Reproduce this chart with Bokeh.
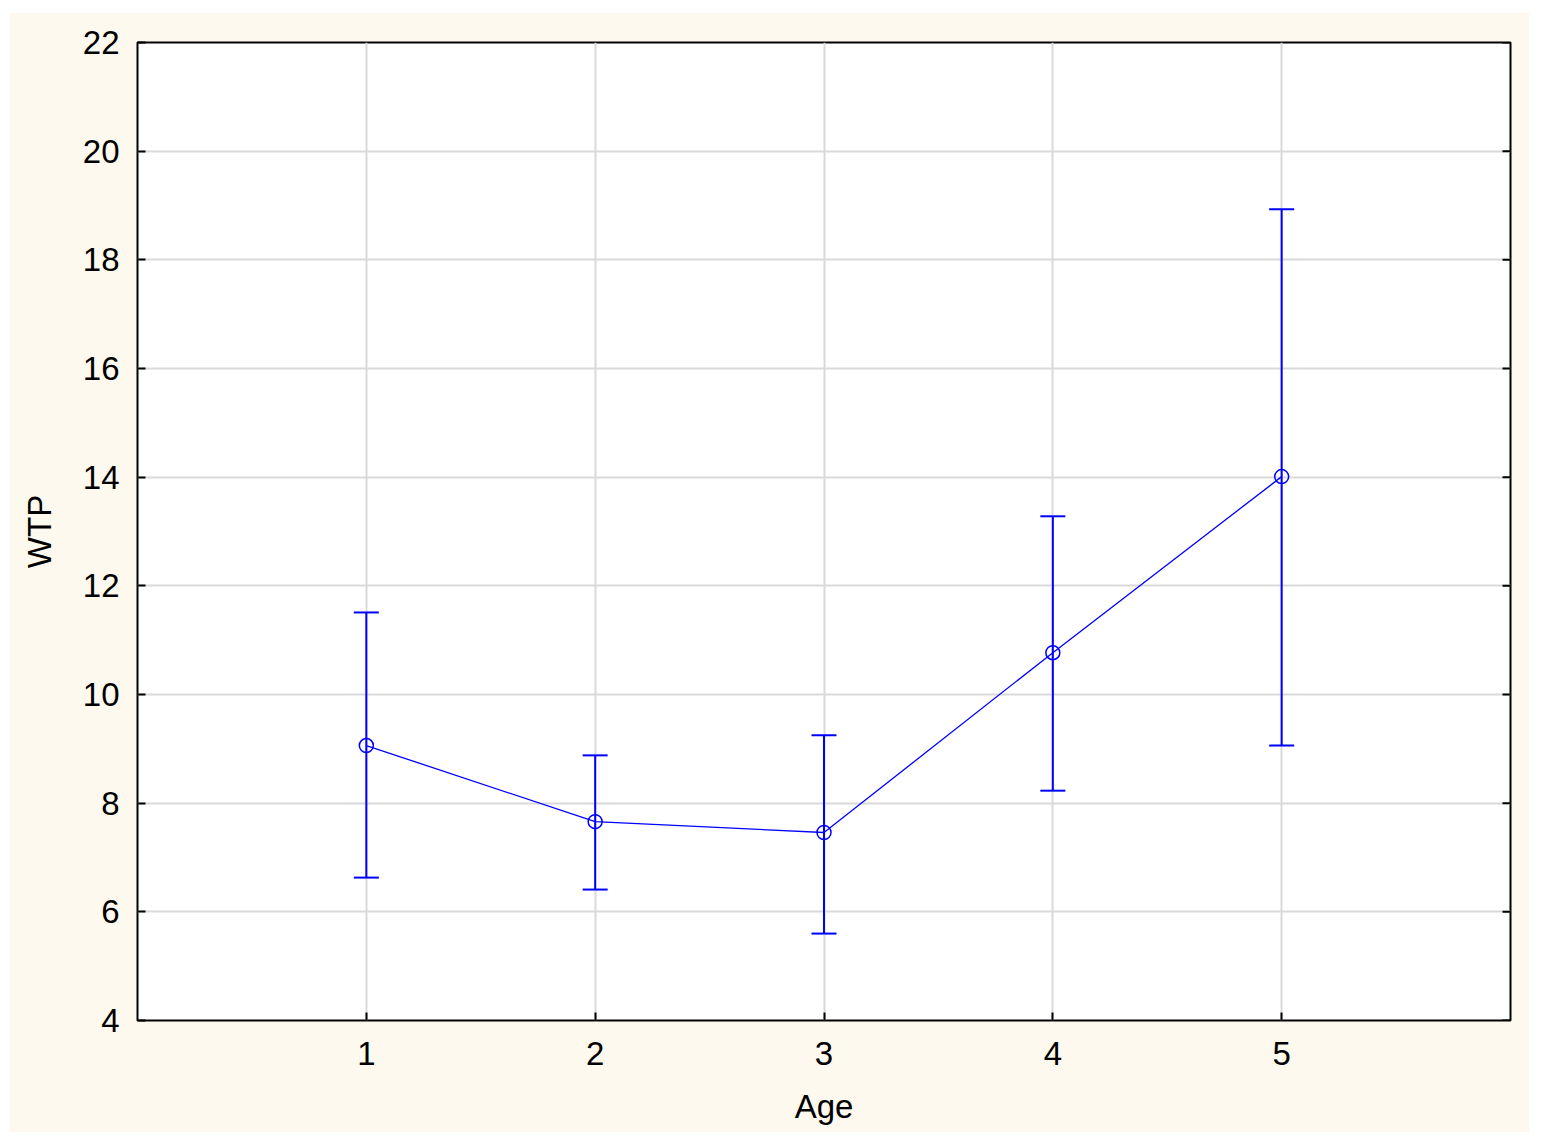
from bokeh.plotting import figure
from bokeh.models import ColumnDataSource, Whisker, TeeHead, FixedTicker, Range1d
from bokeh.embed import file_html
from bokeh.resources import INLINE

age = [1, 2, 3, 4, 5]
wtp_mean = [9.06, 7.66, 7.46, 10.77, 14.01]
wtp_upper = [11.51, 8.88, 9.25, 13.28, 18.93]
wtp_lower = [6.63, 6.41, 5.60, 8.23, 9.06]
x_ticks = [1, 2, 3, 4, 5]
y_ticks = [4, 6, 8, 10, 12, 14, 16, 18, 20, 22]
X_MIN, X_MAX = 0, 6
Y_MIN, Y_MAX = 4, 22

src = ColumnDataSource(dict(x=age, y=wtp_mean, up=wtp_upper, lo=wtp_lower))

CREAM = "#FEF9EE"
BLUE = "#0000FF"
FONT = "Liberation Sans"

p = figure(width=1520, height=1120, output_backend="svg", toolbar_location=None,
           x_range=Range1d(X_MIN, X_MAX), y_range=Range1d(Y_MIN, Y_MAX),
           min_border_left=128, min_border_right=19, min_border_top=30, min_border_bottom=112,
           background_fill_color="white", border_fill_color=CREAM,
           outline_line_color="black", outline_line_width=2)
p.margin = (12, 0, 0, 9)

for ax in (p.xaxis, p.yaxis):
    ax.major_label_text_font = FONT
    ax.major_label_text_font_size = "33px"
    ax.major_label_text_color = "black"
    ax.axis_label_text_font = FONT
    ax.axis_label_text_font_size = "33px"
    ax.axis_label_text_font_style = "normal"
    ax.axis_label_text_color = "black"
    ax.axis_line_color = None
    ax.minor_tick_line_color = None
    ax.major_tick_in = 8
    ax.major_tick_out = 0
    ax.major_tick_line_color = "black"
    ax.major_tick_line_width = 2

p.xaxis.ticker = FixedTicker(ticks=x_ticks)
p.yaxis.ticker = FixedTicker(ticks=y_ticks)
p.xaxis.axis_label = "Age"
p.yaxis.axis_label = "WTP"
p.xaxis.major_label_standoff = 21
p.xaxis.axis_label_standoff = 20
p.yaxis.major_label_standoff = 18
p.yaxis.axis_label_standoff = 22

p.xgrid.ticker = FixedTicker(ticks=x_ticks)
p.ygrid.ticker = FixedTicker(ticks=y_ticks)
p.grid.grid_line_color = "#D9D9D9"
p.grid.grid_line_width = 2

# inward ticks on the right frame edge (half of a dash clipped by the frame)
p.scatter(x=[X_MAX] * len(y_ticks), y=y_ticks, marker="dash", size=16,
          line_color="black", line_width=2)

w = Whisker(base="x", upper="up", lower="lo", source=src, dimension="height",
            line_color=BLUE, line_width=2,
            upper_head=TeeHead(size=25, line_color=BLUE, line_width=2),
            lower_head=TeeHead(size=25, line_color=BLUE, line_width=2))
p.add_layout(w)

p.line("x", "y", source=src, line_color=BLUE, line_width=1.3)
p.scatter("x", "y", source=src, size=14, marker="circle", fill_color="white",
          fill_alpha=0, line_color=BLUE, line_width=1.5)

open("out.html", "w").write(file_html(p, INLINE))
